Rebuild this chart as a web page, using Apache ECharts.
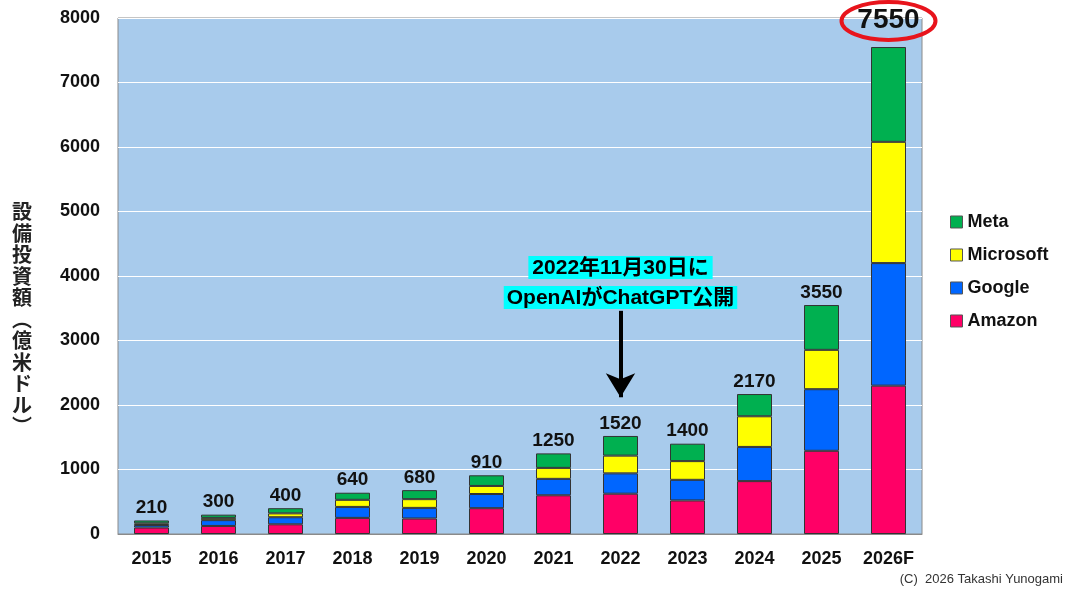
<!DOCTYPE html>
<html>
<head>
<meta charset="utf-8">
<script src="https://cdn.jsdelivr.net/npm/echarts@6/dist/echarts.min.js"></script>
<style>
html, body { margin: 0; padding: 0; background: #fff; }
#main { width: 1080px; height: 593px; }
</style>
</head>
<body>
<div id="main"></div>
<script>
// 年度
var years = ['2015', '2016', '2017', '2018', '2019', '2020', '2021', '2022', '2023', '2024', '2025', '2026F'];
// 各社の設備投資額(億米ドル)
var amazon = [100, 125, 150, 250, 240, 400, 600, 625, 520, 820, 1290, 2300];
var google = [40, 90, 110, 170, 165, 220, 255, 315, 320, 530, 955, 1900];
var microsoft = [25, 35, 60, 110, 135, 125, 170, 275, 290, 475, 610, 1880];
var meta = [45, 50, 80, 110, 140, 165, 225, 305, 270, 345, 695, 1470];
// 合計ラベル
var totals = [210, 300, 400, 640, 680, 910, 1250, 1520, 1400, 2170, 3550, 7550];
var yTicks = [0, 1000, 2000, 3000, 4000, 5000, 6000, 7000, 8000];

var FONT = "'Liberation Sans', 'Noto Sans CJK JP', sans-serif";

var chart = echarts.init(document.getElementById('main'));

function barSeries(name, data, color) {
	return {
		name: name,
		type: 'bar',
		stack: 'capex',
		barWidth: 35,
		data: data,
		itemStyle: {
			color: color,
			borderColor: '#333',
			borderWidth: 1
		}
	};
}

var metaSeries = barSeries('Meta', meta, '#00B050');
metaSeries.label = {
	show: true,
	position: 'top',
	distance: 3,
	fontFamily: FONT,
	fontWeight: 'bold',
	fontSize: 19,
	color: '#111',
	formatter: function (p) {
		if (p.dataIndex === years.length - 1) {
			return '{big|' + totals[p.dataIndex] + '}';
		}
		return totals[p.dataIndex];
	},
	rich: {
		big: {
			fontFamily: FONT,
			fontWeight: 'bold',
			fontSize: 28,
			color: '#111',
			padding: [0, 0, 10, 0]
		}
	}
};

var amazonSeries = barSeries('Amazon', amazon, '#FF0066');
// ChatGPT公開の注記と矢印
amazonSeries.markLine = {
	silent: true,
	symbol: ['none', 'arrow'],
	symbolSize: [22, 24],
	lineStyle: { color: '#000', width: 4, type: 'solid' },
	label: { show: false },
	data: [[{ coord: ['2022', 3460] }, { coord: ['2022', 2120] }]]
};
amazonSeries.markPoint = {
	silent: true,
	symbol: 'rect',
	symbolSize: 1,
	itemStyle: { color: 'rgba(0,0,0,0)' },
	data: [{ coord: ['2022', 3900] }],
	label: {
		show: true,
		position: 'inside',
		formatter: '{a|2022年11月30日に}\n{b|OpenAIがChatGPT公開}',
		rich: {
			a: {
				fontFamily: FONT,
				fontWeight: 'bold',
				fontSize: 21,
				color: '#000',
				backgroundColor: '#00FFFF',
				lineHeight: 30,
				padding: [2, 4, 0, 4]
			},
			b: {
				fontFamily: FONT,
				fontWeight: 'bold',
				fontSize: 21,
				color: '#000',
				backgroundColor: '#00FFFF',
				lineHeight: 30,
				padding: [2, 3, 0, 3]
			}
		}
	}
};

var copyright = {
	type: 'text',
	right: 17,
	bottom: 7,
	style: {
		text: '(C)  2026 Takashi Yunogami',
		fontFamily: FONT,
		fontSize: 13,
		fill: '#333'
	}
};

var option = {
	backgroundColor: '#fff',
	animation: false,
	grid: {
		left: 118,
		right: 158,
		top: 18,
		bottom: 59,
		show: true,
		backgroundColor: '#A8CBEC',
		borderColor: '#8a8a8a',
		borderWidth: 1
	},
	legend: {
		orient: 'vertical',
		left: 945,
		top: 208,
		icon: 'rect',
		itemWidth: 12,
		itemHeight: 12,
		itemGap: 15,
		data: ['Meta', 'Microsoft', 'Google', 'Amazon'],
		itemStyle: { borderColor: '#555', borderWidth: 1 },
		textStyle: {
			fontFamily: FONT,
			fontWeight: 'bold',
			fontSize: 18,
			color: '#111',
			padding: [0, 0, 0, 0]
		}
	},
	xAxis: {
		type: 'category',
		data: years,
		axisTick: { show: false },
		axisLine: { lineStyle: { color: '#8a8a8a' } },
		axisLabel: {
			margin: 16,
			fontFamily: FONT,
			fontWeight: 'bold',
			fontSize: 18,
			color: '#111'
		}
	},
	yAxis: {
		type: 'value',
		min: yTicks[0],
		max: yTicks[yTicks.length - 1],
		interval: 1000,
		// 縦書きの軸名(先頭の空行で下へずらす)
		name: '\n\n\n\n設\n備\n投\n資\n額\n︵\n億\n米\nド\nル\n︶',
		nameLocation: 'middle',
		nameRotate: 0,
		nameGap: 96,
		nameTextStyle: {
			fontFamily: "'Noto Sans CJK JP', sans-serif",
			fontWeight: 'bold',
			fontSize: 20,
			lineHeight: 21.5,
			color: '#222',
			align: 'center'
		},
		axisLine: { show: false },
		axisTick: { show: false },
		splitLine: { lineStyle: { color: '#ffffff', width: 1 } },
		axisLabel: {
			margin: 18,
			fontFamily: FONT,
			fontWeight: 'bold',
			fontSize: 18,
			color: '#111',
			formatter: function (v) { return String(v); }
		}
	},
	series: [
		amazonSeries,
		barSeries('Google', google, '#0066FF'),
		barSeries('Microsoft', microsoft, '#FFFF00'),
		metaSeries
	],
	graphic: [copyright]
};

chart.setOption(option);

// 2026F の合計を赤い楕円で囲む
var p = chart.convertToPixel({ xAxisIndex: 0, yAxisIndex: 0 }, ['2026F', 7550]);
chart.setOption({
	graphic: [copyright, {
		type: 'ellipse',
		silent: true,
		z: 100,
		shape: { cx: p[0], cy: p[1] - 26, rx: 47, ry: 19 },
		style: { fill: 'none', stroke: '#E8141C', lineWidth: 4 }
	}]
});
</script>
</body>
</html>
